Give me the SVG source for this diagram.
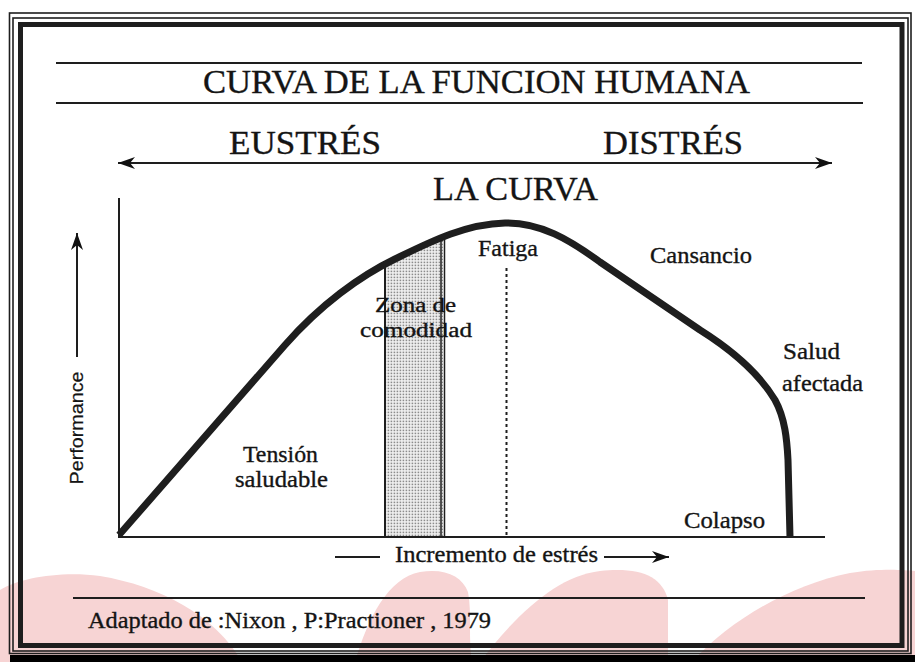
<svg xmlns="http://www.w3.org/2000/svg" width="915" height="662" viewBox="0 0 915 662">
<style>
text{font-family:"Liberation Serif","Times New Roman",Times,serif;fill:#141414;stroke:#141414;stroke-width:0.35}
.big{font-size:33px}
.lbl{font-size:23px}
.zn{font-size:20px}
.sans{font-family:"Liberation Sans",Arial,Helvetica,sans-serif;stroke-width:0.2}
.ln{stroke:#1e1e1e;fill:none}
.blob{fill:#f7d4d4}
</style>
<defs>
<marker id="ah" viewBox="-20 -8 22 16" markerWidth="22" markerHeight="16" refX="0" refY="0" orient="auto-start-reverse" markerUnits="userSpaceOnUse"><path d="M0,0 L-17,-6 L-12,0 L-17,6 Z" fill="#111"/></marker>
<pattern id="dots" width="3" height="3" patternUnits="userSpaceOnUse"><rect width="3" height="3" fill="#f2f2f2"/><rect x="0.6" y="0.6" width="1.6" height="1.6" fill="#8c8c8c"/></pattern>
</defs>
<rect width="915" height="662" fill="#fff"/>
<g id="background">
<path class="blob" d="M0,590 C20,578 60,571 100,576 C160,586 215,615 242,662 L0,662 Z"/>
<path class="blob" d="M355,662 C368,618 388,578 420,572 C445,568 462,576 468,592 C472,612 468,640 472,662 Z"/>
<path class="blob" d="M480,662 C518,612 558,576 600,571 C640,567 662,576 668,600 L668,662 Z"/>
<path class="blob" d="M692,662 C730,620 790,585 850,573 C880,568 905,570 915,571 L915,662 Z"/>
</g>
<g id="frame" class="ln">
<rect x="9.5" y="13" width="901.5" height="640.5" stroke-width="1.6"/>
<rect x="13" y="18" width="895" height="633" stroke-width="1.6"/>
<rect x="20.5" y="24.5" width="881.5" height="621" stroke-width="5"/>
<rect x="10" y="655" width="905" height="7" fill="#000" stroke="none"/>
</g>
<g id="title">
<line class="ln" x1="56" y1="63" x2="862" y2="63" stroke-width="2"/>
<line class="ln" x1="56" y1="103" x2="863" y2="103" stroke-width="2"/>
<text x="203" y="93" font-size="33" textLength="547" lengthAdjust="spacingAndGlyphs">CURVA DE LA FUNCION HUMANA</text>
</g>
<g id="eustres"><text class="big" x="229" y="154" textLength="152" lengthAdjust="spacingAndGlyphs">EUSTRÉS</text></g>
<g id="distres"><text class="big" x="603" y="154" textLength="140" lengthAdjust="spacingAndGlyphs">DISTRÉS</text></g>
<g id="lacurva"><text class="big" x="433" y="200" textLength="165" lengthAdjust="spacingAndGlyphs">LA CURVA</text></g>
<g id="zona">
<polygon points="385,265 400,257 415,250 430,244 443,238 443,537 385,537" fill="url(#dots)"/>
<line class="ln" x1="385" y1="265" x2="385" y2="537" stroke-width="2"/>
<line class="ln" x1="441" y1="240" x2="441" y2="537" stroke-width="1.5"/>
<line class="ln" x1="444.5" y1="238" x2="444.5" y2="537" stroke-width="1.5"/>
<text class="zn" x="375" y="312" textLength="81" lengthAdjust="spacingAndGlyphs">Zona de</text>
<text class="zn" x="360" y="337" textLength="112" lengthAdjust="spacingAndGlyphs">comodidad</text>
</g>
<g id="axes">
<line class="ln" x1="119" y1="198" x2="119" y2="537" stroke-width="2"/>
<line class="ln" x1="118" y1="537" x2="825" y2="537" stroke-width="2"/>
</g>
<g id="curve">
<path class="ln" d="M119,535 L285,345 C320,305 360,276 395,259 C430,242 465,224 505,223 C540,222 570,240 600,262 L700,330 C735,352 760,375 775,400 C785,418 787,440 788,460 L790,537" stroke="#000" stroke-width="7" stroke-linejoin="round"/>
</g>
<g id="fatiga">
<line class="ln" x1="506.5" y1="268" x2="506.5" y2="535" stroke-width="2" stroke-dasharray="3,3"/>
<text class="lbl" x="478" y="256" textLength="60" lengthAdjust="spacingAndGlyphs">Fatiga</text>
</g>
<g id="cansancio"><text class="lbl" x="650" y="263" textLength="102" lengthAdjust="spacingAndGlyphs">Cansancio</text></g>
<g id="salud">
<text class="lbl" x="783" y="359" textLength="57" lengthAdjust="spacingAndGlyphs">Salud</text>
<text class="lbl" x="782" y="391" textLength="81" lengthAdjust="spacingAndGlyphs">afectada</text>
</g>
<g id="tension">
<text class="lbl" x="243" y="462" textLength="75" lengthAdjust="spacingAndGlyphs">Tensión</text>
<text class="lbl" x="235" y="487" textLength="93" lengthAdjust="spacingAndGlyphs">saludable</text>
</g>
<g id="colapso"><text class="lbl" x="684" y="528" textLength="81" lengthAdjust="spacingAndGlyphs">Colapso</text></g>
<g id="performance">
<text class="sans" transform="translate(83,428) rotate(-90)" font-size="18" text-anchor="middle" textLength="113" lengthAdjust="spacingAndGlyphs">Performance</text>
</g>
<g id="incremento">
<text class="lbl" x="395" y="562" textLength="203" lengthAdjust="spacingAndGlyphs">Incremento de estrés</text>
</g>
<g id="source">
<line class="ln" x1="73" y1="598" x2="865" y2="598" stroke-width="2"/>
<text class="lbl" x="88" y="628" textLength="403" lengthAdjust="spacingAndGlyphs">Adaptado de :Nixon , P:Practioner , 1979</text>
</g>
<g id="connectors" class="ln" stroke-width="2">
<line x1="118" y1="163" x2="832" y2="163" marker-start="url(#ah)" marker-end="url(#ah)"/>
<line x1="77" y1="357" x2="77" y2="233" marker-end="url(#ah)"/>
<line x1="335" y1="557" x2="380" y2="557"/>
<line x1="604" y1="557" x2="669" y2="557" marker-end="url(#ah)"/>
</g>
</svg>
